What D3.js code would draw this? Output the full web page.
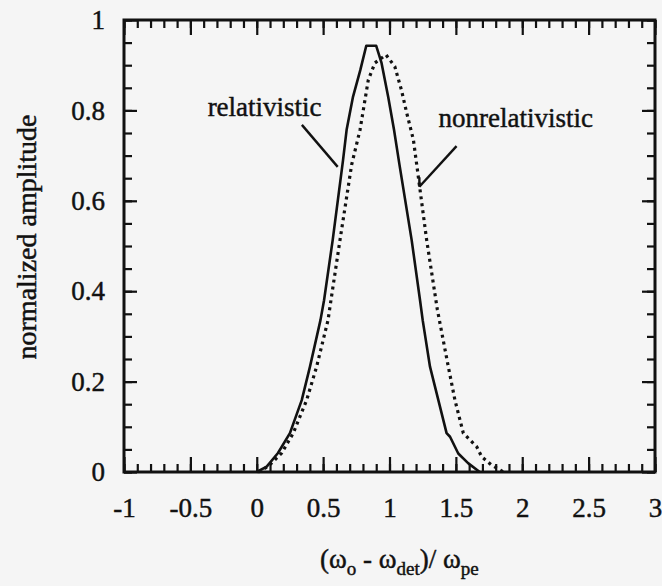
<!DOCTYPE html>
<html><head><meta charset="utf-8">
<script src="https://cdn.jsdelivr.net/npm/d3@7"></script>
<style>
body{margin:0;background:#f5f5f5;}
svg text{font-family:"Liberation Serif","Times New Roman","DejaVu Serif",serif !important;fill:#111;stroke:#111;stroke-width:0.45px;}
</style>
</head><body>
<svg id="c" width="662" height="586"></svg>
<script>
// relativistic (solid)
const relX = [0.0, 0.075, 0.16, 0.25, 0.339, 0.401, 0.48, 0.507, 0.572, 0.65, 0.677, 0.725, 0.78, 0.825, 0.9, 0.94, 0.99, 1.034, 1.075, 1.167, 1.23, 1.25, 1.305, 1.368, 1.43, 1.456, 1.518, 1.594, 1.68];
const relY = [0.0, 0.012, 0.042, 0.086, 0.159, 0.233, 0.336, 0.38, 0.513, 0.69, 0.757, 0.83, 0.889, 0.943, 0.943, 0.905, 0.83, 0.757, 0.68, 0.513, 0.38, 0.336, 0.233, 0.159, 0.086, 0.078, 0.041, 0.019, 0.0];
// nonrelativistic (dotted)
const nonX = [0.01, 0.085, 0.188, 0.275, 0.376, 0.451, 0.537, 0.559, 0.627, 0.715, 0.778, 0.84, 0.89, 0.974, 1.04, 1.09, 1.13, 1.18, 1.205, 1.28, 1.36, 1.443, 1.493, 1.556, 1.657, 1.694, 1.77, 1.86];
const nonY = [0.0, 0.012, 0.042, 0.086, 0.159, 0.233, 0.336, 0.38, 0.513, 0.68, 0.757, 0.867, 0.905, 0.923, 0.897, 0.845, 0.794, 0.735, 0.68, 0.513, 0.36, 0.233, 0.159, 0.086, 0.056, 0.034, 0.015, 0.0];

const xTicks = [-1, -0.5, 0, 0.5, 1, 1.5, 2, 2.5, 3];
const xTickLabels = ["-1", "-0.5", "0", "0.5", "1", "1.5", "2", "2.5", "3"];
const yTicks = [0, 0.2, 0.4, 0.6, 0.8, 1];
const yTickLabels = ["0", "0.2", "0.4", "0.6", "0.8", "1"];
const xMinor = d3.range(-10, 31).map(d => d / 10);
const yMinor = d3.range(0, 21).map(d => d / 20);

const seriesLabels = ["relativistic", "nonrelativistic"];

const FONT = '"Liberation Serif","Times New Roman","DejaVu Serif",serif';
const svg = d3.select("#c");
const L = 124, R = 655, T = 20, B = 472;
const x = d3.scaleLinear().domain([-1, 3]).range([L, R]);
const y = d3.scaleLinear().domain([0, 1]).range([B, T]);

svg.append("rect").attr("width", 662).attr("height", 586).attr("fill", "#f5f5f5");

function tickGroup(axis, tr) {
  const g = svg.append("g").attr("transform", tr).call(axis);
  g.select(".domain").remove();
  g.selectAll("line").attr("stroke", "#111").attr("stroke-width", 2.2);
  return g;
}
// bottom ticks (inward)
tickGroup(d3.axisBottom(x).tickValues(xMinor).tickSize(-8).tickFormat(""), `translate(0,${B})`);
tickGroup(d3.axisBottom(x).tickValues(xTicks).tickSize(-15).tickFormat(""), `translate(0,${B})`);
// top ticks
tickGroup(d3.axisTop(x).tickValues(xMinor).tickSize(-8).tickFormat(""), `translate(0,${T})`);
tickGroup(d3.axisTop(x).tickValues(xTicks).tickSize(-15).tickFormat(""), `translate(0,${T})`);
// left ticks
tickGroup(d3.axisLeft(y).tickValues(yMinor).tickSize(-8).tickFormat(""), `translate(${L},0)`);
tickGroup(d3.axisLeft(y).tickValues(yTicks).tickSize(-13).tickFormat(""), `translate(${L},0)`);
// right ticks
tickGroup(d3.axisRight(y).tickValues(yMinor).tickSize(-8).tickFormat(""), `translate(${R},0)`);
tickGroup(d3.axisRight(y).tickValues(yTicks).tickSize(-13).tickFormat(""), `translate(${R},0)`);

// labels
const xl = svg.append("g").attr("transform", `translate(0,${B})`)
  .call(d3.axisBottom(x).tickValues(xTicks).tickSize(0).tickFormat((d, i) => xTickLabels[i]));
xl.attr("font-family", null);
xl.select(".domain").remove();
xl.selectAll("text").attr("y", 45).attr("dy", 0).attr("font-size", 27)
  .style("font-family", FONT).attr("fill", "#111");

const yl = svg.append("g").attr("transform", `translate(${L},0)`)
  .call(d3.axisLeft(y).tickValues(yTicks).tickSize(0).tickPadding(19).tickFormat((d, i) => yTickLabels[i]));
yl.attr("font-family", null);
yl.select(".domain").remove();
yl.selectAll("text").attr("font-size", 27).style("font-family", FONT).attr("fill", "#111");

// frame
svg.append("rect").attr("x", L).attr("y", T).attr("width", R - L).attr("height", B - T)
  .attr("fill", "none").attr("stroke", "#111").attr("stroke-width", 3);

// curves
const line = d3.line().x(d => x(d[0])).y(d => y(d[1]));
const relData = relX.map((v, i) => [v, relY[i]]);
const nonData = nonX.map((v, i) => [v, nonY[i]]);
svg.append("path").datum(nonData).attr("d", line).attr("fill", "none")
  .attr("stroke", "#111").attr("stroke-width", 3.2).attr("stroke-dasharray", "3,4");
svg.append("path").datum(relData).attr("d", line).attr("fill", "none")
  .attr("stroke", "#111").attr("stroke-width", 2.6).attr("stroke-linejoin", "round");

// annotations
const annText = [{t: seriesLabels[0], x: -0.37, y: 0.787}, {t: seriesLabels[1], x: 1.37, y: 0.764}];
annText.forEach(a => {
  svg.append("text").attr("x", x(a.x)).attr("y", y(a.y)).attr("font-size", 27)
    .style("font-family", FONT).text(a.t);
});
const pointers = [
  [[0.34, 0.768], [0.61, 0.675]],
  [[1.505, 0.721], [1.225, 0.631]],
  [[1.225, 0.631], [1.225, 0.652]]
];
pointers.forEach(p => {
  svg.append("path").datum(p).attr("d", line).attr("fill", "none")
    .attr("stroke", "#111").attr("stroke-width", 2.4);
});

// y title
svg.append("text").attr("transform", "translate(36,237) rotate(-90)")
  .attr("text-anchor", "middle").attr("font-size", 28).style("font-family", FONT)
  .text("normalized amplitude");

// x title
const xt = svg.append("text").attr("x", 320).attr("y", 568).attr("font-size", 27)
  .style("font-family", FONT);
xt.append("tspan").text("(ω");
xt.append("tspan").attr("font-size", 19).attr("dy", 7).text("o");
xt.append("tspan").attr("dy", -7).text(" - ω");
xt.append("tspan").attr("font-size", 19).attr("dy", 7).text("det");
xt.append("tspan").attr("dy", -7).text(")/ ω");
xt.append("tspan").attr("font-size", 19).attr("dy", 7).text("pe");
</script>
</body></html>
